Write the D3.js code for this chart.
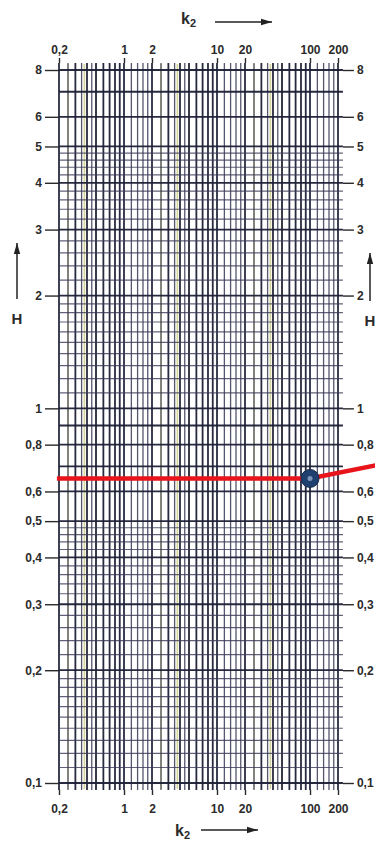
<!DOCTYPE html>
<html>
<head>
<meta charset="utf-8">
<script src="https://cdn.jsdelivr.net/npm/d3@7/dist/d3.min.js"></script>
<style>
  html, body { margin: 0; padding: 0; background: #fff; }
  svg { display: block; }
  text { font-family: "Liberation Sans", Arial, sans-serif; font-weight: bold; fill: #2b2b2b; }
</style>
</head>
<body>
<svg id="chart" width="375" height="841"></svg>
<script>
// tick labels on both axes
const xTickValues = [0.2, 1, 2, 10, 20, 100, 200];
const yTickValues = [0.1, 0.2, 0.3, 0.4, 0.5, 0.6, 0.8, 1, 2, 3, 4, 5, 6, 8];

// ruling of the log paper: [from, to, step] inside one decade
const xRuling = [[1, 2, 0.2], [2, 5, 0.5], [5, 10, 1]];
const yRuling = [[1, 2, 0.1], [2, 5, 0.2], [5, 10, 1]];
const xDecades = [0.1, 1, 10, 100];
const yDecades = [0.1, 1];

// reading drawn in red: H = 0,65 at k2 = 100, then the line bends up
const readingPath = [
  {k2: 0.19, H: 0.65},
  {k2: 100, H: 0.65},
  {k2: 520, H: 0.705}
];
const readingPoint = {k2: 100, H: 0.65};

const fmt = v => String(v).replace(".", ",");

const svg = d3.select("#chart");
const x = d3.scaleLog().domain([0.2, 200]).range([59, 338]);
const y = d3.scaleLog().domain([0.1, 8]).range([783, 70]);

const xMax = 226; // paper continues a little beyond 200

function ruling(decades, steps, lo, hi) {
  const out = [];
  decades.forEach(d => {
    steps.forEach(([a, b, s]) => {
      for (let v = a; v < b - 1e-9; v += s) {
        const val = +(v * d).toPrecision(6);
        if (val >= lo - 1e-9 && val <= hi + 1e-9) out.push(val);
      }
    });
  });
  return Array.from(new Set(out)).sort((p, q) => p - q);
}

const isMajor = v => {
  const e = Math.floor(Math.log10(v) + 1e-9);
  const m = v / Math.pow(10, e);
  return Math.abs(m - Math.round(m)) < 1e-6;
};

const xLines = ruling(xDecades, xRuling, 0.2, xMax);
const yLines = ruling(yDecades, yRuling, 0.1, 8);

// a few faint yellowish half steps, as on the scanned paper
const xHalf = ruling(xDecades, [[2, 5, 1]], 0.2, xMax).map(v => v * 1.25).filter(v => v < xMax);

const grid = svg.append("g");

grid.selectAll("line.xh").data(xHalf).join("line")
  .attr("x1", d => x(d)).attr("x2", d => x(d))
  .attr("y1", y(8) - 6).attr("y2", y(0.1) + 6)
  .attr("stroke", "#d6d69a").attr("stroke-width", 1.6);

grid.selectAll("line.v").data(xLines).join("line")
  .attr("x1", d => x(d)).attr("x2", d => x(d))
  .attr("y1", y(8) - 7).attr("y2", y(0.1) + 7)
  .attr("stroke", d => isMajor(d) ? "#1c1f36" : "#383a56")
  .attr("stroke-opacity", d => isMajor(d) ? 0.95 : 0.85)
  .attr("stroke-width", d => isMajor(d) ? 1.8 : 1.3);

grid.selectAll("line.h").data(yLines).join("line")
  .attr("x1", x(0.2)).attr("x2", x(xMax))
  .attr("y1", d => y(d)).attr("y2", d => y(d))
  .attr("stroke", d => isMajor(d) ? "#1c1f36" : "#383a56")
  .attr("stroke-opacity", d => isMajor(d) ? 0.95 : 0.8)
  .attr("stroke-width", d => isMajor(d) ? 1.8 : 1.2);

// axes: long ticks at the labelled values
const axisStyle = g => {
  g.select(".domain").remove();
  g.selectAll(".tick line").attr("stroke", "#2a2a2a").attr("stroke-width", 1.4);
  g.selectAll(".tick text").attr("font-size", 12).style("font-weight", "bold").attr("fill", "#262626");
};

svg.append("g")
  .attr("transform", `translate(0,${y(8) - 7})`)
  .call(d3.axisTop(x).tickValues(xTickValues).tickFormat(fmt).tickSize(5).tickPadding(4))
  .call(axisStyle);

svg.append("g")
  .attr("transform", `translate(0,${y(0.1) + 7})`)
  .call(d3.axisBottom(x).tickValues(xTickValues).tickFormat(fmt).tickSize(5).tickPadding(9))
  .call(axisStyle);

svg.append("g")
  .attr("transform", `translate(${x(0.2)},0)`)
  .call(d3.axisLeft(y).tickValues(yTickValues).tickFormat(fmt).tickSize(14).tickPadding(3))
  .call(axisStyle);

svg.append("g")
  .attr("transform", `translate(${x(xMax)},0)`)
  .call(d3.axisRight(y).tickValues(yTickValues).tickFormat(fmt).tickSize(11).tickPadding(3))
  .call(axisStyle);

// axis titles with arrows
const arrow = (x1, y1, x2, y2) => {
  svg.append("line").attr("x1", x1).attr("y1", y1).attr("x2", x2).attr("y2", y2)
    .attr("stroke", "#222").attr("stroke-width", 1.5);
  const ang = Math.atan2(y2 - y1, x2 - x1);
  const L = 11, W = 3.2;
  const p = [
    [x2, y2],
    [x2 - L * Math.cos(ang) + W * Math.sin(ang), y2 - L * Math.sin(ang) - W * Math.cos(ang)],
    [x2 - L * Math.cos(ang) - W * Math.sin(ang), y2 - L * Math.sin(ang) + W * Math.cos(ang)]
  ];
  svg.append("path").attr("d", d3.line()(p) + "Z").attr("fill", "#222");
};

const k2Label = (tx, ty) => {
  const t = svg.append("text").attr("x", tx).attr("y", ty).attr("font-size", 16);
  t.append("tspan").text("k");
  t.append("tspan").attr("font-size", 11).attr("dy", 3).text("2");
};

k2Label(181, 24);
arrow(215, 22, 272, 22);
k2Label(175, 836);
arrow(201, 830, 258, 830);

svg.append("text").attr("x", 17).attr("y", 324).attr("text-anchor", "middle").attr("font-size", 15).text("H");
arrow(17, 299, 17, 243);
svg.append("text").attr("x", 370).attr("y", 326).attr("text-anchor", "middle").attr("font-size", 15).text("H");
arrow(370, 301, 370, 253);

// reading
svg.append("path")
  .datum(readingPath)
  .attr("d", d3.line().x(d => x(d.k2)).y(d => y(d.H)))
  .attr("fill", "none").attr("stroke", "#e8141c").attr("stroke-width", 4.5);

svg.append("circle")
  .attr("cx", x(readingPoint.k2)).attr("cy", y(readingPoint.H)).attr("r", 9)
  .attr("fill", "#1f3f6e").attr("stroke", "#152a4c").attr("stroke-width", 1);
svg.append("circle")
  .attr("cx", x(readingPoint.k2)).attr("cy", y(readingPoint.H)).attr("r", 2.5)
  .attr("fill", "#7d95b8");
</script>
</body>
</html>
